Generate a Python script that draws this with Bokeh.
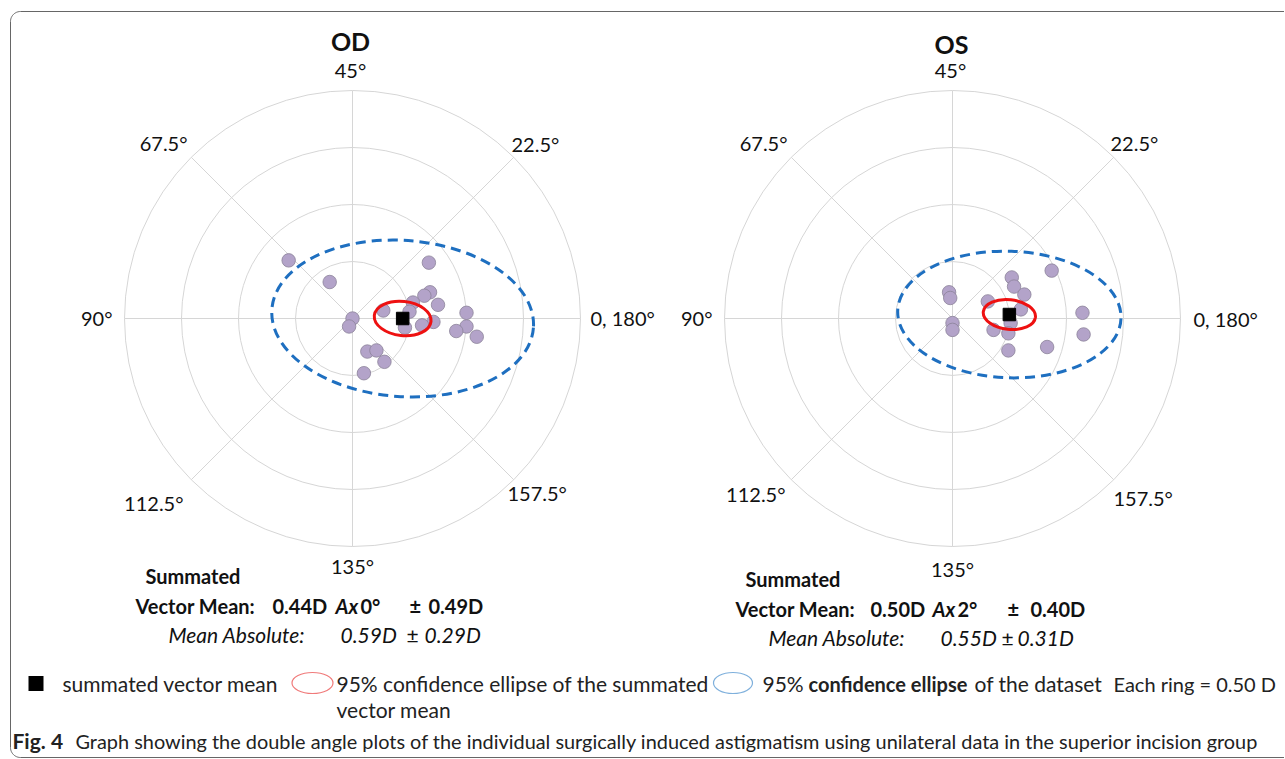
import numpy as np
from bokeh.plotting import figure
from bokeh.models import Range1d
from bokeh.embed import file_html
from bokeh.resources import INLINE
from bokeh.core.properties import value

# ---------------- data: double-angle coordinates (dioptres) ----------------
od_x = [-0.56, -0.20, 0.67, 0.68, 0.63, 0.53, 0.50, 0.27, 0.75, 0.71, 0.61,
        0.46, 1.00, 1.00, 0.91, 1.09, 0.00, -0.03, 0.13, 0.21, 0.28, 0.10]
od_y = [0.51, 0.32, 0.49, 0.23, 0.20, 0.14, 0.06, 0.07, 0.12, -0.03, -0.06,
        -0.08, 0.05, -0.07, -0.11, -0.16, 0.00, -0.07, -0.29, -0.28, -0.38, -0.48]
os_x = [-0.03, -0.02, 0.31, 0.52, 0.54, 0.63, 0.60, 0.87, 0.51, 0.00, 0.00,
        0.36, 0.49, 0.49, 0.83, 1.14, 1.15]
os_y = [0.23, 0.18, 0.15, 0.36, 0.28, 0.21, 0.08, 0.42, -0.04, -0.04, -0.10,
        -0.10, -0.13, -0.28, -0.25, 0.05, -0.14]

# summated vector means: magnitude (D), axis (deg)
od_mean = [0.44, 0.0]
os_mean = [0.50, 2.0]
# 95% confidence ellipses: full width, full height (D), tilt (deg)
od_ci_mean = [0.50, 0.30, -6]
od_ci_data = [2.30, 1.37, -4]
os_ci_mean = [0.46, 0.26, -6]
os_ci_data = [1.96, 1.11, -2]

ring_radii = [0.5, 1.0, 1.5, 2.0]
axis_labels = ["0, 180°", "22.5°", "45°", "67.5°", "90°", "112.5°", "135°", "157.5°"]

FONT = "Lato"
W, H = 1284, 758
PX = 114.0  # pixels per dioptre
OD_C = (352, 318)
OS_C = (952, 318)

p = figure(width=W, height=H, x_range=Range1d(0, W), y_range=Range1d(H, 0),
           output_backend="svg", toolbar_location=None,
           x_axis_type=None, y_axis_type=None, min_border=0)
p.outline_line_color = None
p.background_fill_color = "white"
p.extra_y_ranges = {"dy": Range1d((OD_C[1] - H) / PX, OD_C[1] / PX)}
p.extra_x_ranges = {
    "odx": Range1d(-OD_C[0] / PX, (W - OD_C[0]) / PX),
    "osx": Range1d(-OS_C[0] / PX, (W - OS_C[0]) / PX),
}

# frame (rounded corner box)
t = np.linspace(0, np.pi / 2, 20)
r = 10
top_arc_x = (10 + r) - r * np.sin(t)
top_arc_y = (11 + r) - r * np.cos(t)
bot_arc_x = (10 + r) - r * np.cos(t)
bot_arc_y = (757 - r) + r * np.sin(t)
frame_x = np.r_[1300, top_arc_x, bot_arc_x, 1300]
frame_y = np.r_[11, top_arc_y, bot_arc_y, 757]
p.line(frame_x, frame_y, line_color="#666666", line_width=1)


def draw_polar(xr, xs, ys, mean, ci_m, ci_d):
    kw = dict(x_range_name=xr, y_range_name="dy")
    p.circle(x=[0] * len(ring_radii), y=[0] * len(ring_radii), radius=ring_radii,
             fill_color=None, line_color="#d6d6d6", line_width=1, **kw)
    ang = np.deg2rad(np.arange(8) * 45.0)
    R = max(ring_radii)
    p.segment(x0=0, y0=0, x1=R * np.cos(ang), y1=R * np.sin(ang),
              line_color="#d6d6d6", line_width=1, **kw)
    mx = mean[0] * np.cos(np.deg2rad(2 * mean[1]))
    my = mean[0] * np.sin(np.deg2rad(2 * mean[1]))
    p.ellipse(x=mx, y=my, width=ci_d[0], height=ci_d[1], angle=ci_d[2], angle_units="deg",
              fill_color=None, line_color="#1e6fc0", line_width=3, line_dash="10 6", **kw)
    p.scatter(xs, ys, size=13.5, fill_color="#b3a3c9", line_color="#8c8399",
              line_width=0.8, **kw)
    p.ellipse(x=mx, y=my, width=ci_m[0], height=ci_m[1], angle=ci_m[2], angle_units="deg",
              fill_color=None, line_color="#ee1111", line_width=3, **kw)
    p.scatter([mx], [my], marker="square", size=12.5, color="black", **kw)


draw_polar("odx", od_x, od_y, od_mean, od_ci_mean, od_ci_data)
draw_polar("osx", os_x, os_y, os_mean, os_ci_mean, os_ci_data)


def txt(x, y, s, size=18, bold=False, italic=False, align="left", color="#111111", font=FONT):
    style = "bold italic" if (bold and italic) else ("bold" if bold else ("italic" if italic else "normal"))
    p.text(x=[x], y=[y], text=[s], text_font=value(font), text_font_size=f"{size}px",
           text_font_style=style, text_align=align, text_baseline="middle", text_color=color)


# titles
txt(350, 40, "OD", 25, bold=True, align="center")
txt(951, 43, "OS", 25, bold=True, align="center")

# angle labels (pixel positions, alignments)
od_lab = [(590, 317, "left"), (511, 143, "left"), (350, 69, "center"), (187, 142, "right"),
          (112, 317, "right"), (183, 502, "right"), (352, 565, "center"), (507, 492, "left")]
os_lab = [(1193, 318, "left"), (1110, 142, "left"), (950, 69, "center"), (787, 142, "right"),
          (712, 317, "right"), (785, 493, "right"), (952, 568, "center"), (1113, 497, "left")]
for lab, (x, y, a) in zip(axis_labels, od_lab):
    txt(x, y, lab, 20, align=a)
for lab, (x, y, a) in zip(axis_labels, os_lab):
    txt(x, y, lab, 20, align=a)

# summary blocks
SB = 20
SI = 21


def summary(dx, dy, mag, ax, sd, mabs, msd, pos):
    txt(145 + dx, 575 + dy, "Summated", SB, bold=True)
    txt(135 + dx, 605 + dy, "Vector Mean:", SB, bold=True)
    txt(pos[0], 605 + dy, f"{mag:.2f}D", SB, bold=True)
    txt(pos[1], 605 + dy, "Ax", SB, bold=True, italic=True)
    txt(pos[2], 605 + dy, f"{ax:.0f}°", SB, bold=True)
    txt(pos[3], 605 + dy, "±", SB, bold=True)
    txt(pos[4], 605 + dy, f"{sd:.2f}D", SB, bold=True)
    txt(168 + dx, 634 + dy, "Mean Absolute:", SI, italic=True)
    txt(pos[5], 634 + dy, f"{mabs:.2f}D", SI, italic=True)
    txt(pos[6], 634 + dy, "±", SI)
    txt(pos[7], 634 + dy, f"{msd:.2f}D", SI, italic=True)


summary(0, 0, od_mean[0], od_mean[1], 0.49, 0.59, 0.29,
        [272, 335, 360, 409, 428, 340, 406, 424])
summary(600, 3, os_mean[0], os_mean[1], 0.40, 0.55, 0.31,
        [870, 932, 957, 1007, 1030, 940, 1001, 1017])

# legend
LF = 21
p.rect(x=[35.5], y=[683], width=15, height=15, fill_color="black", line_color=None)
txt(62, 683, "summated vector mean", LF, color="#222222")
p.ellipse(x=[312], y=[682.5], width=41, height=21, fill_color=None, line_color="#f07a7a", line_width=1.2)
txt(336, 683, "95% confidence ellipse of  the summated", LF, color="#222222")
txt(336, 709, "vector mean", LF, color="#222222")
p.ellipse(x=[732.5], y=[682.5], width=39, height=21, fill_color=None, line_color="#7fb0dc", line_width=1.2)
txt(762, 683, "95%", LF, color="#222222")
txt(808, 683, "confidence ellipse", 20, bold=True, color="#222222")
txt(974, 683, "of the dataset", LF, color="#222222")
txt(1113, 683, "Each ring = 0.50 D", 20, color="#222222")

# caption
txt(12, 740, "Fig. 4", 21, bold=True, color="#222222")
txt(75, 740, "Graph showing the double angle plots of the individual surgically induced astigmatism "
    "using unilateral data in the superior incision group", 19.9, color="#222222")

open("out.html", "w").write(file_html(p, INLINE))
